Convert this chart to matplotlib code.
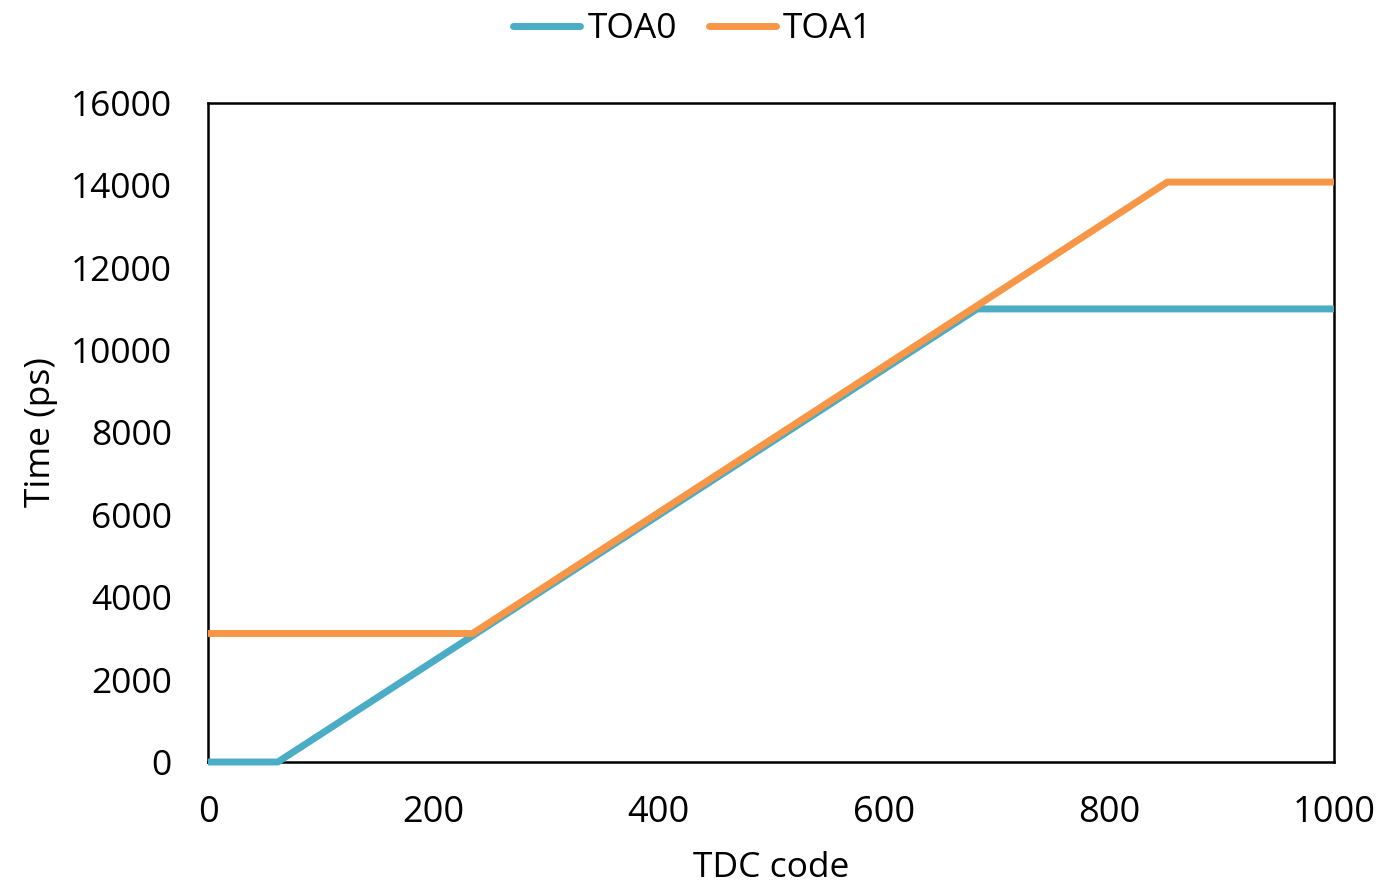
import matplotlib
matplotlib.use("Agg")
import matplotlib.pyplot as plt

# Data (breakpoints)
toa0_code = [0, 62, 683, 1000]
toa0_time = [0, 0, 11000, 11000]
toa1_code = [0, 235, 852, 1000]
toa1_time = [3120, 3120, 14080, 14080]

x_ticks = [0, 200, 400, 600, 800, 1000]
y_ticks = [0, 2000, 4000, 6000, 8000, 10000, 12000, 14000, 16000]

c0 = "#4BACC6"
c1 = "#F79646"

plt.rcParams['font.family'] = ['Open Sans', 'DejaVu Sans']

fig = plt.figure(figsize=(13.8, 8.89), dpi=100)
ax = fig.add_axes([208/1380, 1-762/889, (1334-208)/1380, (762-103)/889])

ax.plot(toa0_code, toa0_time, color=c0, lw=5, label="TOA0", solid_capstyle='butt', zorder=3, clip_on=False)
ax.plot(toa1_code, toa1_time, color=c1, lw=5, label="TOA1", solid_capstyle='butt', zorder=4, clip_on=False)

ax.set_xlim(0, 1000)
ax.set_ylim(0, 16000)
ax.set_xticks(x_ticks)
ax.set_yticks(y_ticks)
ax.tick_params(axis='y', length=0, labelsize=25.5, pad=26)
ax.tick_params(axis='x', length=0, labelsize=26, pad=24)
for s in ax.spines.values():
    s.set_linewidth(1.8)
    s.set_color('black')
    s.set_zorder(2)

ax.set_xlabel("TDC code", fontsize=25.5, labelpad=14)
ax.set_ylabel("Time (ps)", fontsize=25.5, labelpad=9)

leg = fig.legend(loc='upper center', bbox_to_anchor=(0.502, 1.022), ncol=2, frameon=False,
                 fontsize=25.5, handlelength=1.9, handletextpad=0.2, columnspacing=0.9)
for h in leg.get_lines():
    h.set_linewidth(5)
    h.set_solid_capstyle('round')

fig.savefig("out.png", dpi=100)
